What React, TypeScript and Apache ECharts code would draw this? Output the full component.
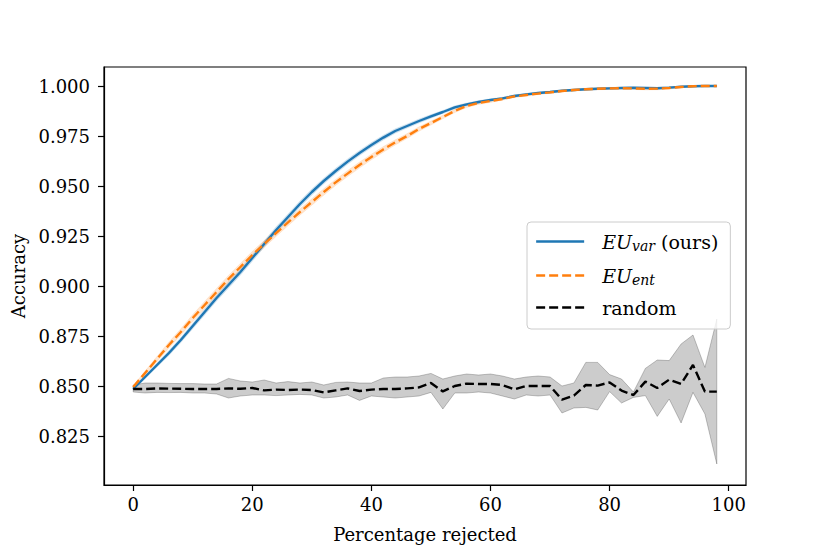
import React, { useEffect, useRef } from "react";
import * as echarts from "echarts";

const xs = [0, 2, 4, 6, 8, 10, 12, 14, 16, 18, 20, 22, 24, 26, 28, 30, 32, 34, 36, 38, 40, 42, 44, 46, 48, 50, 52, 54, 56, 58, 60, 62, 64, 66, 68, 70, 72, 74, 76, 78, 80, 82, 84, 86, 88, 90, 92, 94, 96, 98];

const euVar = [0.8485, 0.8545, 0.8605, 0.8665, 0.873, 0.88, 0.887, 0.894, 0.9005, 0.907, 0.914, 0.921, 0.928, 0.9345, 0.941, 0.947, 0.9525, 0.9575, 0.9622, 0.9665, 0.9705, 0.9742, 0.9775, 0.98, 0.9825, 0.9848, 0.987, 0.9893, 0.9908, 0.992, 0.993, 0.9938, 0.995, 0.9958, 0.9965, 0.997, 0.9976, 0.998, 0.9984, 0.9986, 0.9988, 0.999, 0.9991, 0.999, 0.9989, 0.9992, 0.9996, 0.9999, 1.0, 1.0];
const euVarStd = [0.0005, 0.0008, 0.001, 0.0012, 0.0013, 0.0014, 0.0015, 0.0015, 0.0016, 0.0016, 0.0016, 0.0016, 0.0016, 0.0015, 0.0015, 0.0015, 0.0014, 0.0014, 0.0013, 0.0013, 0.0012, 0.0012, 0.0011, 0.001, 0.001, 0.0009, 0.0008, 0.0008, 0.0007, 0.0007, 0.0006, 0.0006, 0.0006, 0.0005, 0.0005, 0.0005, 0.0004, 0.0004, 0.0004, 0.0004, 0.0004, 0.0004, 0.0004, 0.0005, 0.0005, 0.0004, 0.0003, 0.0002, 0.0001, 0.0001];

const euEnt = [0.8495, 0.8565, 0.8635, 0.8705, 0.877, 0.884, 0.8905, 0.897, 0.9035, 0.9095, 0.9155, 0.921, 0.9265, 0.9318, 0.937, 0.942, 0.947, 0.9518, 0.9562, 0.9605, 0.9645, 0.9683, 0.9718, 0.975, 0.9785, 0.9815, 0.9845, 0.9875, 0.99, 0.9915, 0.9925, 0.9935, 0.9948, 0.9955, 0.9962, 0.9968, 0.9975, 0.998, 0.9984, 0.9986, 0.9988, 0.9989, 0.9988, 0.9986, 0.9987, 0.999, 0.9995, 0.9999, 1.0, 1.0];
const euEntStd = [0.0006, 0.001, 0.0013, 0.0015, 0.0016, 0.0017, 0.0018, 0.0018, 0.0018, 0.0018, 0.0018, 0.0017, 0.0017, 0.0017, 0.0016, 0.0016, 0.0016, 0.0015, 0.0015, 0.0015, 0.0014, 0.0014, 0.0013, 0.0012, 0.0011, 0.001, 0.0009, 0.0008, 0.0008, 0.0007, 0.0007, 0.0006, 0.0006, 0.0006, 0.0005, 0.0005, 0.0005, 0.0005, 0.0005, 0.0005, 0.0005, 0.0005, 0.0005, 0.0006, 0.0006, 0.0005, 0.0004, 0.0003, 0.0001, 0.0001];

const randMean = [0.8485, 0.8485, 0.8488, 0.8487, 0.8486, 0.8485, 0.8485, 0.8485, 0.8488, 0.8486, 0.849, 0.8478, 0.8482, 0.848, 0.8482, 0.848, 0.8468, 0.8478, 0.8488, 0.8475, 0.8482, 0.8485, 0.8485, 0.8488, 0.8493, 0.8515, 0.8473, 0.85, 0.8512, 0.851, 0.851, 0.8505, 0.8483, 0.85, 0.85, 0.85, 0.8432, 0.8452, 0.8505, 0.8502, 0.8518, 0.8477, 0.8455, 0.8522, 0.849, 0.8532, 0.851, 0.8605, 0.8472, 0.8472];
const randUpper = [0.8505, 0.8515, 0.8515, 0.8513, 0.8512, 0.8512, 0.851, 0.851, 0.8538, 0.8525, 0.852, 0.853, 0.8515, 0.8522, 0.8515, 0.852, 0.8505, 0.8518, 0.852, 0.8515, 0.8515, 0.854, 0.8545, 0.8545, 0.855, 0.8563, 0.8535, 0.855, 0.856, 0.8555, 0.856, 0.855, 0.8535, 0.8545, 0.855, 0.8545, 0.85, 0.8515, 0.8618, 0.8618, 0.8557, 0.8535, 0.847, 0.8588, 0.863, 0.8627, 0.871, 0.8755, 0.8593, 0.8835];
const randLower = [0.847, 0.8465, 0.8468, 0.8467, 0.8468, 0.8465, 0.8465, 0.846, 0.844, 0.845, 0.8455, 0.8455, 0.8452, 0.8455, 0.8458, 0.8455, 0.844, 0.8445, 0.8455, 0.8428, 0.845, 0.8445, 0.844, 0.8445, 0.845, 0.8468, 0.8385, 0.8465, 0.8465, 0.847, 0.8465, 0.845, 0.8435, 0.8455, 0.845, 0.8455, 0.8365, 0.839, 0.8393, 0.838, 0.8472, 0.8415, 0.8443, 0.8452, 0.8348, 0.8435, 0.8315, 0.8468, 0.836, 0.811];

const xTicks = [0, 20, 40, 60, 80, 100];
const yTicks = [0.825, 0.85, 0.875, 0.9, 0.925, 0.95, 0.975, 1.0];

const FONT = "'DejaVu Serif', 'Liberation Serif', serif";
const FS = 18;
const LFS = 19;
const BLUE = "#1f77b4";
const ORANGE = "#ff7f0e";

function pairs(vals: number[]) {
  return xs.map((x, i) => [x, vals[i]]);
}

function band(name: string, lower: number[], upper: number[], fill: string, edge: string, edgeWidth: number) {
  return {
    name,
    type: "custom",
    silent: true,
    z: 1,
    data: xs.map((x, i) => [x, lower[i], upper[i]]),
    encode: { x: 0, y: [1, 2] },
    renderItem: (params: any, api: any) => {
      if (params.dataIndex !== 0) return null;
      const top = xs.map((x, i) => api.coord([x, upper[i]]));
      const bot = xs.map((x, i) => api.coord([x, lower[i]])).reverse();
      return {
        type: "polygon",
        shape: { points: top.concat(bot) },
        style: { fill, stroke: edge, lineWidth: edgeWidth },
      };
    },
  };
}

export default function App() {
  const ref = useRef<HTMLDivElement>(null);
  useEffect(() => {
    if (!ref.current) return;
    const chart = echarts.init(ref.current, undefined, { renderer: "svg" });
    const varLo = euVar.map((v, i) => v - euVarStd[i]);
    const varHi = euVar.map((v, i) => v + euVarStd[i]);
    const entLo = euEnt.map((v, i) => v - euEntStd[i]);
    const entHi = euEnt.map((v, i) => v + euEntStd[i]);
    const labelNames: Record<string, string> = {
      var: "{it|EU}{sub|var}{rm| (ours)}",
      ent: "{it|EU}{sub|ent}",
      random: "{rm2|random}",
    };
    const option: any = {
      animation: false,
      backgroundColor: "#fff",
      grid: {
        left: 104,
        top: 67,
        width: 642,
        height: 418,
        show: true,
        borderColor: "#000",
        borderWidth: 1.2,
        backgroundColor: "transparent",
      },
      xAxis: {
        type: "value",
        min: -4.9,
        max: 102.9,
        axisLine: { show: true, onZero: false, lineStyle: { color: "#000", width: 1.2 } },
        axisTick: { show: true, inside: false, length: 6, lineStyle: { color: "#000", width: 1.2 }, customValues: xTicks },
        axisLabel: { customValues: xTicks, color: "#000", fontFamily: FONT, fontSize: FS, margin: 10 },
        splitLine: { show: false },
        name: "Percentage rejected",
        nameLocation: "middle",
        nameGap: 40,
        nameTextStyle: { color: "#000", fontFamily: FONT, fontSize: FS },
      },
      yAxis: {
        type: "value",
        min: 0.8005,
        max: 1.0095,
        axisLine: { show: true, onZero: false, lineStyle: { color: "#000", width: 1.2 } },
        axisTick: { show: true, inside: false, length: 6, lineStyle: { color: "#000", width: 1.2 }, customValues: yTicks },
        axisLabel: {
          customValues: yTicks,
          color: "#000",
          fontFamily: FONT,
          fontSize: FS,
          margin: 14,
          formatter: (v: number) => v.toFixed(3),
        },
        splitLine: { show: false },
        name: "Accuracy",
        nameLocation: "middle",
        nameGap: 76,
        nameTextStyle: { color: "#000", fontFamily: FONT, fontSize: FS },
      },
      legend: {
        show: true,
        orient: "vertical",
        left: 527,
        top: 222,
        padding: [8, 12, 12, 8],
        itemWidth: 48,
        itemHeight: 14,
        itemGap: 11,
        backgroundColor: "rgba(255,255,255,0.8)",
        borderColor: "#cccccc",
        borderWidth: 1,
        borderRadius: 4,
        itemStyle: { opacity: 0 },
        lineStyle: { width: 2.3 },
        data: ["var", "ent", "random"],
        formatter: (name: string) => labelNames[name],
        textStyle: {
          color: "#000",
          fontFamily: FONT,
          fontSize: LFS,
          rich: {
            it: { fontFamily: FONT, fontSize: LFS, fontStyle: "italic", color: "#000", padding: [0, 0, 0, 13], lineHeight: 22 },
            sub: { fontFamily: FONT, fontSize: 14, fontStyle: "italic", color: "#000", padding: [9, 0, 0, 0], lineHeight: 22 },
            rm: { fontFamily: FONT, fontSize: LFS, color: "#000", lineHeight: 22 },
            rm2: { fontFamily: FONT, fontSize: LFS, color: "#000", lineHeight: 22, padding: [0, 0, 0, 13] },
          },
        },
      },
      series: [
        band("rb", randLower, randUpper, "rgba(0,0,0,0.2)", "rgba(0,0,0,0.22)", 1),
        band("vb", varLo, varHi, "rgba(31,119,180,0.2)", "rgba(31,119,180,0.12)", 0.8),
        band("eb", entLo, entHi, "rgba(255,127,14,0.2)", "rgba(255,127,14,0.12)", 0.8),
        {
          name: "var",
          type: "line",
          data: pairs(euVar),
          symbol: "none",
          color: BLUE,
          lineStyle: { color: BLUE, width: 2.4, type: "solid" },
          z: 3,
        },
        {
          name: "ent",
          type: "line",
          data: pairs(euEnt),
          symbol: "none",
          color: ORANGE,
          lineStyle: { color: ORANGE, width: 2.4, type: [9, 4] },
          z: 4,
        },
        {
          name: "random",
          type: "line",
          data: pairs(randMean),
          symbol: "none",
          color: "#000",
          lineStyle: { color: "#000", width: 2.4, type: [9, 4] },
          z: 4,
        },
      ],
    };
    chart.setOption(option);
    return () => chart.dispose();
  }, []);
  return (
    <div
      ref={ref}
      style={{ position: "absolute", left: 0, top: 0, width: 830, height: 554, background: "#fff" }}
    />
  );
}
